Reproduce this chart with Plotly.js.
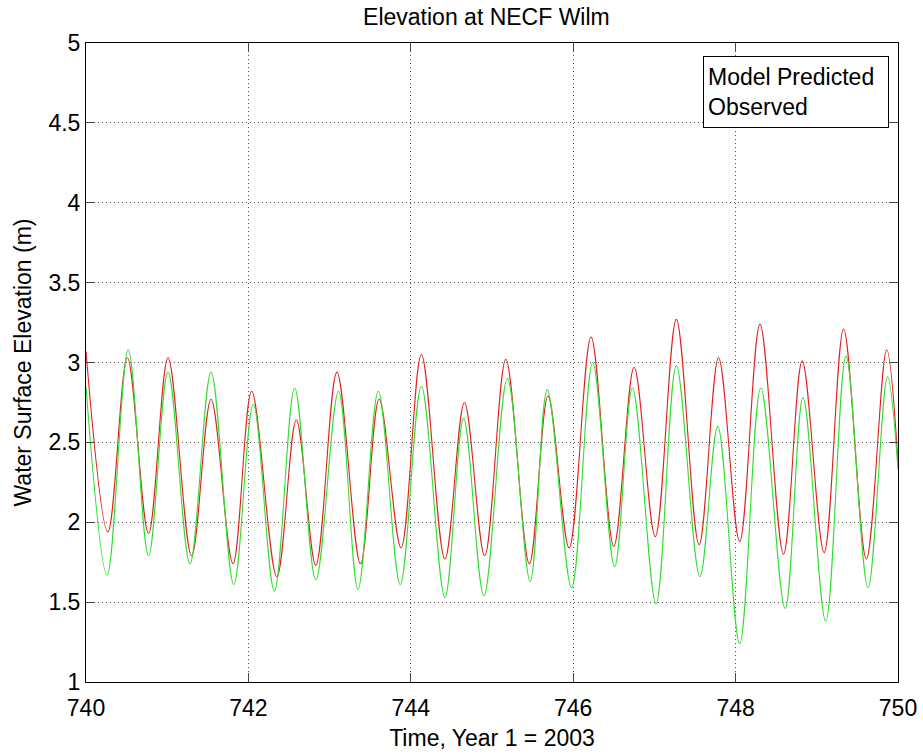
<!DOCTYPE html>
<html>
<head>
<meta charset="utf-8">
<script src="https://cdn.plot.ly/plotly-3.0.1.min.js"></script>
<style>html,body{margin:0;padding:0;background:#fff;}#chart{width:923px;height:754px;}</style>
</head>
<body>
<div id="chart"></div>
<script>
// Model predicted water surface elevation (turning points)
var modelTime = [740.00, 740.27, 740.51, 740.77, 741.01, 741.30, 741.54, 741.81, 742.04, 742.35,
  742.59, 742.83, 743.09, 743.38, 743.61, 743.88, 744.13, 744.42, 744.66, 744.91,
  745.17, 745.46, 745.69, 745.95, 746.22, 746.50, 746.75, 747.01, 747.27, 747.55,
  747.79, 748.05, 748.30, 748.59, 748.82, 749.09, 749.33, 749.61, 749.86, 750.00];
var modelElev = [3.07, 1.94, 3.03, 1.93, 3.03, 1.79, 2.77, 1.74, 2.82, 1.66,
  2.64, 1.73, 2.94, 1.74, 2.77, 1.84, 3.05, 1.77, 2.75, 1.79,
  3.02, 1.74, 2.79, 1.84, 3.16, 1.85, 2.97, 1.91, 3.27, 1.86,
  3.03, 1.88, 3.24, 1.80, 3.01, 1.81, 3.21, 1.77, 3.08, 2.37];

// Observed water surface elevation
var obsTime = [740.00, 740.26, 740.52, 740.77, 741.01, 741.28, 741.54, 741.82, 742.06, 742.32,
  742.57, 742.83, 743.11, 743.35, 743.60, 743.87, 744.13, 744.42, 744.65, 744.90,
  745.19, 745.47, 745.68, 745.98, 746.24, 746.51, 746.73, 747.02, 747.27, 747.56,
  747.78, 748.05, 748.31, 748.61, 748.83, 749.11, 749.36, 749.63, 749.87, 750.00];
var obsElev = [2.85, 1.67, 3.08, 1.79, 2.94, 1.74, 2.94, 1.61, 2.74, 1.57,
  2.84, 1.64, 2.82, 1.58, 2.82, 1.61, 2.85, 1.53, 2.65, 1.54,
  2.90, 1.63, 2.83, 1.59, 3.00, 1.72, 2.84, 1.49, 2.98, 1.66,
  2.60, 1.24, 2.84, 1.46, 2.78, 1.38, 3.04, 1.59, 2.91, 2.33];

var seriesNames = ['Model Predicted', 'Observed'];
var xTickVals = [740, 742, 744, 746, 748, 750];
var yTickVals = [1, 1.5, 2, 2.5, 3, 3.5, 4, 4.5, 5];
var chartTitle = 'Elevation at NECF Wilm';
var xTitle = 'Time, Year 1 = 2003';
var yTitle = 'Water Surface Elevation (m)';

var FONT = 'Liberation Sans, Arial, Helvetica, sans-serif';

var traces = [
  {x: modelTime, y: modelElev, name: seriesNames[0], type: 'scatter', mode: 'lines',
   line: {color: '#e31e1e', width: 1.1, shape: 'spline', smoothing: 1}, showlegend: false},
  {x: obsTime, y: obsElev, name: seriesNames[1], type: 'scatter', mode: 'lines',
   line: {color: '#2ee02e', width: 1.1, shape: 'spline', smoothing: 1}, showlegend: false}
];

var axisCommon = {
  showline: true, linecolor: '#000', linewidth: 1, mirror: 'ticks',
  ticks: 'inside', ticklen: 9, tickcolor: '#444', tickwidth: 1,
  showgrid: true, gridcolor: '#555', gridwidth: 1, griddash: '1px,3px',
  zeroline: false, tickfont: {family: FONT, size: 23, color: '#000'}
};

var layout = {
  width: 923, height: 754,
  margin: {l: 86, r: 25, t: 43, b: 72},
  paper_bgcolor: '#fff', plot_bgcolor: '#fff',
  font: {family: FONT, size: 23, color: '#000'},
  title: {text: chartTitle, font: {family: FONT, size: 23, color: '#000'},
          x: 0.527, xref: 'container', xanchor: 'center', y: 0.977, yref: 'container', yanchor: 'middle'},
  xaxis: Object.assign({}, axisCommon, {
    range: [740, 750], tickvals: xTickVals, ticklabelstandoff: 5,
    title: {text: xTitle, font: {family: FONT, size: 23, color: '#000'}, standoff: 10}
  }),
  yaxis: Object.assign({}, axisCommon, {
    range: [1, 5], tickvals: yTickVals,
    title: {text: yTitle, font: {family: FONT, size: 23, color: '#000'}, standoff: 10}
  }),
  showlegend: false,
  annotations: [{
    xref: 'paper', yref: 'paper', x: 0.7599, y: 0.9797, xanchor: 'left', yanchor: 'top',
    text: seriesNames[0] + '<br>' + seriesNames[1], align: 'left', showarrow: false,
    font: {family: FONT, size: 23, color: '#000'},
    bgcolor: '#fff', bordercolor: '#000', borderwidth: 1, borderpad: 4,
    width: 176, height: 62, valign: 'middle'
  }]
};

Plotly.newPlot('chart', traces, layout, {displayModeBar: false, staticPlot: true});
</script>
</body>
</html>
